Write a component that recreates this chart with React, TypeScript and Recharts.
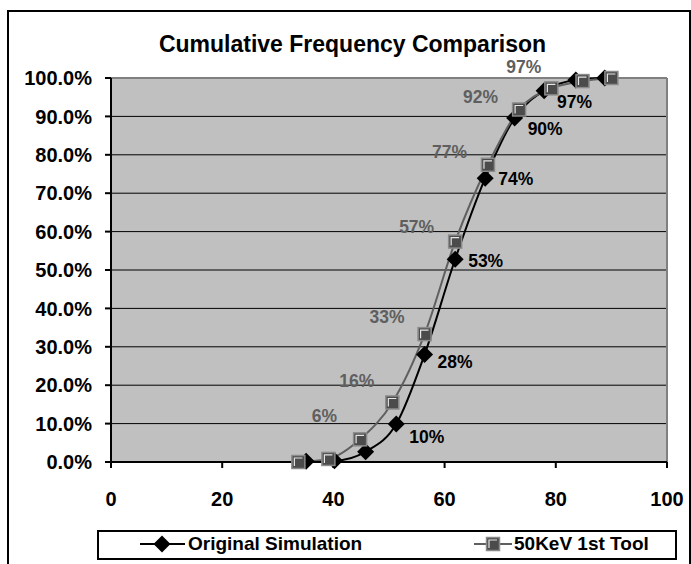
import React from 'react';
import {
  LineChart,
  Line,
  XAxis,
  YAxis,
  CartesianGrid,
  ReferenceLine,
  LabelList
} from 'recharts';

// Original Simulation (black diamonds)
const ORIG_X = [35.1, 40.2, 45.8, 51.3, 56.4, 61.9, 67.3, 72.6, 77.9, 83.6, 88.8];
const ORIG_Y = [0.002, 0.003, 0.027, 0.099, 0.28, 0.528, 0.739, 0.896, 0.967, 0.995, 1.0];
const ORIG_LABELS = ['', '', '', '10%', '28%', '53%', '74%', '90%', '97%', '', ''];

// 50KeV 1st Tool (grey squares)
const TOOL_X = [33.7, 39.1, 44.8, 50.6, 56.4, 61.9, 67.8, 73.4, 79.2, 84.8, 90.0];
const TOOL_Y = [0.0, 0.008, 0.059, 0.155, 0.333, 0.574, 0.774, 0.918, 0.973, 0.992, 1.0];
const TOOL_LABELS = ['', '', '6%', '16%', '33%', '57%', '77%', '92%', '97%', '', ''];

const X_TICKS = [0, 20, 40, 60, 80, 100];
const Y_TICKS = [0, 0.1, 0.2, 0.3, 0.4, 0.5, 0.6, 0.7, 0.8, 0.9, 1.0];

const FONT = '"Liberation Sans", Arial, sans-serif';
const GREY = '#5f5f5f';

// label baseline nudges (px), matched to the original placement
const ORIG_DY = [0, 0, 0, 19, 14, 8, 7, 17, 17, 0, 0];
const TOOL_DY = [0, 0, -17, -15, -11, -9, -7, -6, -15, 0, 0];
const TOOL_DX = [0, 0, -23, -18, -20, -21, -21, -21, -10, 0, 0];

const origData = ORIG_X.map((x, i) => ({ x, y: ORIG_Y[i], label: ORIG_LABELS[i] }));
const toolData = TOOL_X.map((x, i) => ({ x, y: TOOL_Y[i], label: TOOL_LABELS[i] }));

const Diamond = ({ cx, cy }: any) => (
  <polygon
    points={`${cx - 8.5},${cy} ${cx},${cy - 8.5} ${cx + 8.5},${cy} ${cx},${cy + 8.5}`}
    fill="#000"
  />
);

const Square = ({ cx, cy }: any) => (
  <g>
    <rect x={cx - 6.5} y={cy - 6.5} width={13} height={13} fill="#4b4b4b" stroke="#8a8a8a" strokeWidth={1.5} />
    <path d={`M${cx - 4},${cy + 4} V${cy - 4} H${cx + 4}`} stroke="#e6e6e6" strokeWidth={1.2} fill="none" />
  </g>
);

const origLabel = (props: any) => {
  const { x, y, value, index } = props;
  if (!value) return null;
  return (
    <text x={x + 13} y={y + ORIG_DY[index]} fill="#000" fontSize={17.5} fontWeight="bold" fontFamily={FONT}>
      {value}
    </text>
  );
};

const toolLabel = (props: any) => {
  const { x, y, value, index } = props;
  if (!value) return null;
  return (
    <text
      x={x + TOOL_DX[index]}
      y={y + TOOL_DY[index]}
      textAnchor="end"
      fill={GREY}
      fontSize={17.5}
      fontWeight="bold"
      fontFamily={FONT}
    >
      {value}
    </text>
  );
};

export default function App() {
  return (
    <div style={{ position: 'absolute', left: 0, top: 0, width: 691, height: 564, background: '#fff', fontFamily: FONT, overflow: 'hidden' }}>
      {/* outer chart border */}
      <div style={{ position: 'absolute', left: 7, top: 10, width: 684, height: 580, border: '2px solid #000', boxSizing: 'border-box' }} />

      <div style={{ position: 'absolute', left: 0, top: 33, width: 705, textAlign: 'center', fontSize: 23, fontWeight: 'bold', lineHeight: '23px', color: '#000', whiteSpace: 'nowrap' }}>
        Cumulative Frequency Comparison
      </div>

      <div style={{ position: 'absolute', left: 0, top: 0 }}>
        <LineChart width={691} height={564} margin={{ top: 78, right: 24, bottom: 72, left: 0 }}>
          <CartesianGrid vertical={false} stroke="#000" strokeWidth={1} fill="#C0C0C0" />
          <XAxis
            dataKey="x"
            type="number"
            domain={[0, 100]}
            ticks={X_TICKS}
            height={30}
            allowDataOverflow
            axisLine={{ stroke: '#000', strokeWidth: 2 }}
            tickLine={{ stroke: '#000', strokeWidth: 2 }}
            tickSize={6}
            tickMargin={24}
            tick={{ fill: '#000', fontSize: 20, fontWeight: 'bold', fontFamily: FONT }}
          />
          <YAxis
            type="number"
            domain={[0, 1]}
            ticks={Y_TICKS}
            width={111}
            axisLine={{ stroke: '#000', strokeWidth: 2 }}
            tickLine={{ stroke: '#000', strokeWidth: 2 }}
            tickSize={6}
            tickMargin={13}
            tickFormatter={(v: number) => (v * 100).toFixed(1) + '%'}
            tick={{ fill: '#000', fontSize: 20, fontWeight: 'bold', fontFamily: FONT }}
          />
          <ReferenceLine y={1} stroke="#808080" strokeWidth={2} />
          <ReferenceLine x={100} stroke="#808080" strokeWidth={2} />
          <Line
            data={origData}
            dataKey="y"
            type="monotone"
            stroke="#000"
            strokeWidth={2}
            dot={(p: any) => <Diamond key={`o${p.index}`} cx={p.cx} cy={p.cy} />}
            activeDot={false}
            isAnimationActive={false}
          >
            <LabelList dataKey="label" content={origLabel} />
          </Line>
          <Line
            data={toolData}
            dataKey="y"
            type="monotone"
            stroke={GREY}
            strokeWidth={2}
            dot={(p: any) => <Square key={`t${p.index}`} cx={p.cx} cy={p.cy} />}
            activeDot={false}
            isAnimationActive={false}
          >
            <LabelList dataKey="label" content={toolLabel} />
          </Line>
        </LineChart>
      </div>

      {/* legend */}
      <div style={{ position: 'absolute', left: 97, top: 530, width: 580, height: 30, border: '2px solid #000', boxSizing: 'border-box', background: '#fff' }}>
        <svg style={{ position: 'absolute', left: 41, top: 2 }} width={45} height={20}>
          <line x1={0} y1={10} x2={45} y2={10} stroke="#000" strokeWidth={2} />
          <Diamond cx={22} cy={10} />
        </svg>
        <span style={{ position: 'absolute', left: 89, top: 2, fontSize: 19, fontWeight: 'bold', lineHeight: '20px', whiteSpace: 'nowrap' }}>
          Original Simulation
        </span>
        <svg style={{ position: 'absolute', left: 375, top: 2 }} width={38} height={20}>
          <line x1={0} y1={10} x2={38} y2={10} stroke={GREY} strokeWidth={2} />
          <Square cx={19} cy={10} />
        </svg>
        <span style={{ position: 'absolute', left: 415, top: 2, fontSize: 19, fontWeight: 'bold', lineHeight: '20px', whiteSpace: 'nowrap' }}>
          50KeV 1st Tool
        </span>
      </div>
    </div>
  );
}
